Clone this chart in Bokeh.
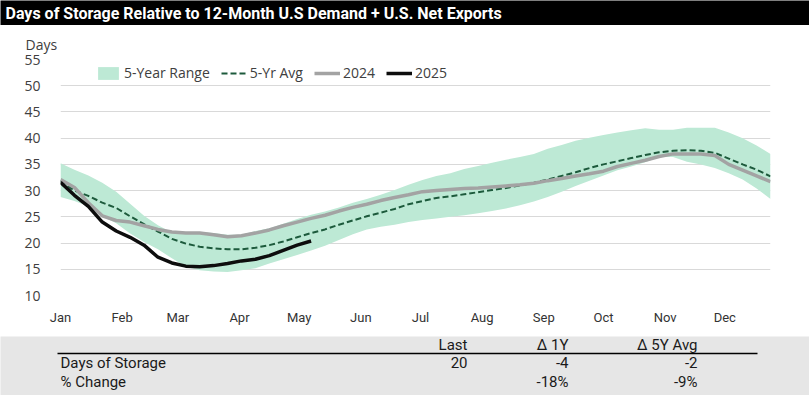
from bokeh.plotting import figure
from bokeh.models import Range1d, FixedTicker, Legend, LegendItem
from bokeh.layouts import column
from bokeh.embed import file_html
from bokeh.resources import INLINE
from bokeh.core.properties import value

TITLE = "Days of Storage Relative to 12-Month U.S Demand + U.S. Net Exports"

# weekly observations, x = day of year
week_days = [7 * i for i in range(52)]

range_upper = [35.2, 34.0, 32.9, 31.5, 29.8, 27.5, 25.2, 23.4, 22.0, 22.1, 22.1, 21.9, 21.6,
               21.6, 22.3, 22.8, 23.7, 24.6, 25.4, 26.0, 26.8, 27.7, 28.4, 29.2, 30.1, 31.1,
               32.0, 32.8, 33.3, 34.1, 34.7, 35.3, 35.9, 36.4, 37.0, 38.0, 38.7, 39.5, 40.1,
               40.6, 41.1, 41.5, 41.9, 41.6, 41.6, 42.0, 42.0, 42.0, 41.1, 40.0, 38.6, 37.0]
range_lower = [28.8, 28.0, 27.0, 25.1, 23.8, 21.8, 20.2, 18.8, 17.1, 15.5, 14.8, 14.6, 14.5,
               14.8, 15.2, 16.1, 16.9, 17.7, 18.6, 19.5, 20.6, 21.7, 22.6, 23.1, 23.5, 24.0,
               24.4, 24.7, 25.0, 25.3, 25.7, 26.1, 26.6, 27.2, 27.9, 28.8, 29.8, 30.9, 31.9,
               32.9, 33.9, 34.6, 35.4, 36.4, 36.4, 35.5, 35.0, 34.3, 33.3, 32.1, 30.4, 28.4]
avg_5yr = [31.9, 30.0, 29.0, 27.7, 26.7, 25.1, 23.6, 22.2, 20.8, 19.9, 19.3, 19.0, 18.8,
           18.8, 19.1, 19.6, 20.3, 21.1, 21.9, 22.6, 23.5, 24.3, 25.1, 25.8, 26.5, 27.4,
           28.0, 28.6, 28.9, 29.3, 29.7, 30.1, 30.5, 31.0, 31.5, 32.1, 32.8, 33.5, 34.3,
           35.0, 35.6, 36.2, 36.8, 37.3, 37.6, 37.7, 37.6, 37.2, 36.1, 35.0, 34.0, 32.7]
y2024 = [32.1, 30.6, 27.7, 25.2, 24.3, 24.0, 23.3, 22.6, 22.1, 21.9, 21.9, 21.6, 21.2,
         21.4, 21.9, 22.5, 23.3, 24.0, 24.7, 25.3, 26.1, 26.8, 27.4, 28.1, 28.7, 29.2,
         29.8, 30.0, 30.2, 30.4, 30.5, 30.7, 30.9, 31.1, 31.4, 31.9, 32.3, 32.8, 33.2,
         33.7, 34.6, 35.2, 35.8, 36.5, 37.0, 37.0, 37.0, 36.7, 35.0, 33.9, 32.8, 31.7]
y2025 = [31.6, 29.1, 27.0, 24.0, 22.3, 21.1, 19.6, 17.3, 16.2, 15.6, 15.5, 15.7, 16.1,
         16.6, 16.9, 17.6, 18.6, 19.6, 20.4]

month_ticks = [0, 31, 59, 90, 120, 151, 181, 212, 243, 273, 304, 334]
month_labels = ["Jan", "Feb", "Mar", "Apr", "May", "Jun", "Jul", "Aug", "Sep", "Oct", "Nov", "Dec"]
y_ticks = [10, 15, 20, 25, 30, 35, 40, 45, 50, 55]

table_header = ["Last", "\u0394 1Y", "\u0394 5Y Avg"]
table_rows = ["Days of Storage", "% Change"]
table_values = [["20", "-4", "-2"], ["", "-18%", "-9%"]]

BAND = "#bde9d5"
AVG = "#1d5a3c"
GREY = "#a3a3a3"
BLACK = "#0d0d0d"
NARROW = "Roboto"
W = 809

# ---------- title bar ----------
t = figure(width=W, height=25, x_range=Range1d(0, W), y_range=Range1d(0, 25),
           output_backend="svg", toolbar_location=None, x_axis_type=None, y_axis_type=None,
           min_border=0, background_fill_color="black", border_fill_color="black")
t.frame_align = False
t.outline_line_color = None
t.grid.visible = False
t.text(x=[5], y=[12.5], text=[TITLE], text_color="white", text_font=value(NARROW),
       text_font_style="bold", text_font_size="16px", text_baseline="middle", text_align="left")

# ---------- main chart ----------
p = figure(width=W, height=311, x_range=Range1d(0, 357), y_range=Range1d(10, 55),
           output_backend="svg", toolbar_location=None,
           min_border_left=60, min_border_right=39, min_border_top=34, min_border_bottom=41)
p.frame_align = False
p.outline_line_color = None
p.background_fill_color = "white"
p.border_fill_color = "white"

p.title.text = "Days"
p.title.align = "left"
p.title.offset = -35
p.title.standoff = 12
p.title.text_font = "Open Sans"
p.title.text_font_size = "14px"
p.title.text_font_style = "normal"
p.title.text_color = "#404040"

r_band = p.varea(x=week_days, y1=range_lower, y2=range_upper, fill_color=BAND)
r_avg = p.line(week_days, avg_5yr, line_color=AVG, line_width=2, line_dash="6 3")
r_24 = p.line(week_days, y2024, line_color=GREY, line_width=3.5)
r_25 = p.line(week_days[:len(y2025)], y2025, line_color=BLACK, line_width=3.5)

p.xaxis.ticker = FixedTicker(ticks=month_ticks)
p.xaxis.major_label_overrides = {tk: lb for tk, lb in zip(month_ticks, month_labels)}
p.yaxis.ticker = FixedTicker(ticks=y_ticks)
for ax in (p.xaxis, p.yaxis):
    ax.axis_line_color = None
    ax.major_tick_line_color = None
    ax.minor_tick_line_color = None
p.xaxis.major_label_text_font = NARROW
p.xaxis.major_label_text_font_size = "13px"
p.xaxis.major_label_text_color = "#333333"
p.xaxis.major_label_standoff = 8
p.yaxis.major_label_text_font = "Open Sans"
p.yaxis.major_label_text_font_size = "14px"
p.yaxis.major_label_text_color = "#404040"
p.yaxis.major_label_standoff = 14
p.xgrid.visible = False
p.ygrid.ticker = FixedTicker(ticks=y_ticks)
p.ygrid.grid_line_color = "#d9d9d9"
p.ygrid.grid_line_width = 1

legend = Legend(items=[LegendItem(label="5-Year Range", renderers=[r_band]),
                       LegendItem(label="5-Yr Avg", renderers=[r_avg]),
                       LegendItem(label="2024", renderers=[r_24]),
                       LegendItem(label="2025", renderers=[r_25])],
                orientation="horizontal", location=(35, 213), padding=2, spacing=11,
                glyph_width=26, glyph_height=16, label_standoff=3,
                label_text_font="Open Sans", label_text_font_size="14px",
                label_text_color="#404040", border_line_color=None,
                background_fill_alpha=0)
p.add_layout(legend)

# ---------- table ----------
TH = 59
tb = figure(width=W, height=TH, x_range=Range1d(0, W), y_range=Range1d(0, TH),
            output_backend="svg", toolbar_location=None, x_axis_type=None, y_axis_type=None,
            min_border=0, background_fill_color="#e6e6e6", border_fill_color="#e6e6e6")
tb.frame_align = False
tb.outline_line_color = None
tb.grid.visible = False
col_x = [467, 568, 697]
tb.text(x=col_x, y=[TH - 8] * 3, text=table_header, text_font=value(NARROW), text_font_size="15px",
        text_color="#1a1a1a", text_align="right", text_baseline="middle")
tb.segment(x0=[57], y0=[TH - 17], x1=[757], y1=[TH - 17], line_color="black", line_width=1.5)
row_y = [TH - 26, TH - 45]
tb.text(x=[60, 60], y=row_y, text=table_rows, text_font=value(NARROW), text_font_size="15px",
        text_color="#1a1a1a", text_align="left", text_baseline="middle")
for ry, vals in zip(row_y, table_values):
    tb.text(x=col_x, y=[ry] * 3, text=vals, text_font=value(NARROW), text_font_size="15px",
            text_color="#1a1a1a", text_align="right", text_baseline="middle")

layout = column(t, p, tb, spacing=0)
open("out.html", "w").write(file_html(layout, INLINE))
